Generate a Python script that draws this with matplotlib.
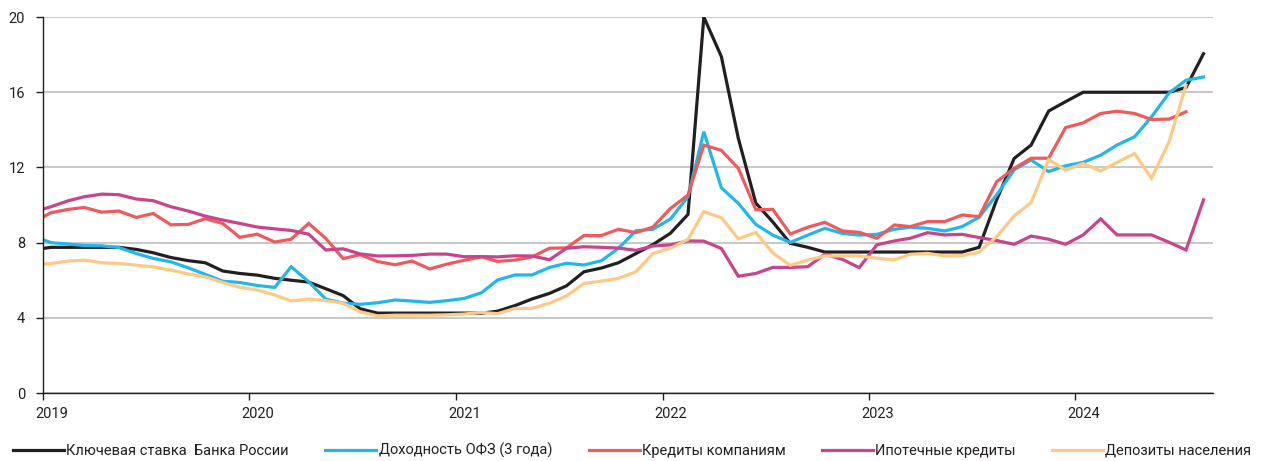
"""Key rate vs OFZ yields, loans and deposits, 2019-2024."""
import matplotlib
matplotlib.use('Agg')
import matplotlib.pyplot as plt
import matplotlib.dates as mdates
import pandas as pd

plt.rcParams['font.family'] = ['Roboto', 'DejaVu Sans']

# monthly points, Dec 2018 .. Aug 2024 (plotted mid-month)
months = pd.date_range('2018-12-01', periods=69, freq='MS') + pd.Timedelta(days=14)

key_rate = [7.62,
            7.75, 7.75, 7.75, 7.75, 7.75, 7.64, 7.46, 7.21, 7.04, 6.93, 6.49, 6.36,
            6.27, 6.10, 6.00, 5.90, 5.55, 5.18, 4.48, 4.25, 4.25, 4.25, 4.25, 4.25,
            4.25, 4.25, 4.35, 4.65, 5.00, 5.30, 5.70, 6.45, 6.65, 6.93, 7.42, 7.90,
            8.50, 9.50, 20.0, 17.9, 13.55, 10.1, 9.10, 7.96, 7.75, 7.50, 7.50, 7.50,
            7.50, 7.50, 7.50, 7.50, 7.50, 7.50, 7.75, 10.27, 12.48, 13.19, 15.0, 15.5,
            16.0, 16.0, 16.0, 16.0, 16.0, 16.0, 16.25, 18.05]
ofz_3y = [8.35,
          8.00, 7.92, 7.85, 7.83, 7.74, 7.42, 7.16, 6.98, 6.66, 6.31, 5.95, 5.88,
          5.72, 5.62, 6.72, 5.92, 5.00, 4.78, 4.72, 4.80, 4.95, 4.89, 4.82, 4.91,
          5.03, 5.34, 6.01, 6.28, 6.28, 6.68, 6.90, 6.81, 7.04, 7.70, 8.63, 8.71,
          9.26, 10.44, 13.90, 10.92, 10.09, 8.97, 8.40, 8.01, 8.40, 8.76, 8.49, 8.40,
          8.44, 8.71, 8.82, 8.76, 8.62, 8.85, 9.35, 10.54, 11.87, 12.40, 11.78, 12.09,
          12.27, 12.65, 13.19, 13.63, 14.69, 15.96, 16.64, 16.81]
corp_loans = [9.09,
              9.59, 9.77, 9.87, 9.62, 9.68, 9.34, 9.55, 8.95, 8.97, 9.27, 9.02, 8.28,
              8.45, 8.03, 8.18, 9.02, 8.23, 7.15, 7.36, 6.99, 6.82, 7.02, 6.60, 6.85,
              7.06, 7.24, 7.00, 7.07, 7.24, 7.70, 7.72, 8.38, 8.38, 8.71, 8.53, 8.83,
              9.82, 10.53, 13.19, 12.91, 11.95, 9.75, 9.77, 8.46, 8.82, 9.08, 8.62, 8.55,
              8.23, 8.94, 8.85, 9.12, 9.12, 9.47, 9.38, 11.24, 11.95, 12.49, 12.49,
              14.12, 14.37, 14.87, 14.99, 14.87, 14.55, 14.57, 14.96]
mortgage = [9.63,
            9.91, 10.23, 10.44, 10.58, 10.55, 10.32, 10.23, 9.91, 9.68, 9.41, 9.20, 9.02,
            8.83, 8.73, 8.65, 8.45, 7.61, 7.67, 7.40, 7.29, 7.30, 7.32, 7.39, 7.39,
            7.25, 7.26, 7.24, 7.30, 7.29, 7.09, 7.70, 7.78, 7.75, 7.71, 7.59, 7.82,
            7.88, 8.09, 8.08, 7.69, 6.21, 6.36, 6.68, 6.68, 6.72, 7.38, 7.11, 6.67,
            7.88, 8.09, 8.23, 8.53, 8.41, 8.44, 8.27, 8.11, 7.91, 8.35, 8.18, 7.91,
            8.41, 9.26, 8.41, 8.41, 8.41, 8.02, 7.61, 10.27]
deposits = [6.83,
            6.89, 7.02, 7.07, 6.93, 6.89, 6.80, 6.71, 6.54, 6.33, 6.18, 5.88, 5.62,
            5.48, 5.21, 4.90, 5.00, 4.92, 4.77, 4.32, 4.10, 4.14, 4.14, 4.14, 4.16,
            4.20, 4.29, 4.22, 4.50, 4.50, 4.78, 5.16, 5.83, 5.95, 6.10, 6.45, 7.43,
            7.70, 8.17, 9.65, 9.32, 8.20, 8.54, 7.45, 6.79, 7.07, 7.29, 7.29, 7.29,
            7.17, 7.08, 7.38, 7.43, 7.29, 7.31, 7.49, 8.32, 9.42, 10.13, 12.42,
            11.86, 12.21, 11.81, 12.27, 12.74, 11.42, 13.36, 16.37]

series = [
    (key_rate, 'Ключевая ставка  Банка России', '#231f20'),
    (ofz_3y, 'Доходность ОФЗ (3 года)', '#22b7ea'),
    (corp_loans, 'Кредиты компаниям', '#ef5a5c'),
    (mortgage, 'Ипотечные кредиты', '#c8448c'),
    (deposits, 'Депозиты населения', '#fec985'),
]

fig = plt.figure(figsize=(12.65, 4.61), dpi=100)
ax = fig.add_axes([0.034, 0.1475, 0.925, 0.8155])

for vals, label, color in series:
    ax.plot(months[:len(vals)], vals, color=color, lw=2.3, label=label,
            solid_joinstyle='miter', zorder=3)

ax.set_ylim(0, 20)
ax.set_yticks([0, 4, 8, 12, 16, 20])
ax.set_xlim(pd.Timestamp('2019-01-01'), pd.Timestamp('2024-09-01'))

# year ticks on Jan 1, labels centred on mid-January
ax.xaxis.set_major_locator(mdates.YearLocator())
ax.xaxis.set_major_formatter(plt.NullFormatter())
ax.xaxis.set_minor_locator(mdates.YearLocator(month=1, day=16))
ax.xaxis.set_minor_formatter(mdates.DateFormatter('%Y'))
ax.tick_params(axis='x', which='major', length=5, width=1, color='#231f20')
ax.tick_params(axis='x', which='minor', length=0, pad=10, labelsize=10.5, labelcolor='#231f20')
ax.tick_params(axis='y', length=5, width=1, color='#231f20', pad=8, labelsize=10.5,
               labelcolor='#231f20')

ax.grid(axis='y', color='#c8c8c8', lw=1.4, zorder=0)
ax.set_axisbelow(True)
for s in ['top', 'right']:
    ax.spines[s].set_visible(False)
for s in ['left', 'bottom']:
    ax.spines[s].set_color('#231f20')
    ax.spines[s].set_linewidth(1.0)
    ax.spines[s].set_zorder(4)

fig.legend(loc='lower left', bbox_to_anchor=(0.0, -0.022), ncol=5, frameon=False,
           fontsize=10.5, handlelength=3.5, handletextpad=0.15, columnspacing=2.5,
           labelcolor='#231f20')

plt.savefig('out.png', dpi=100, facecolor='white')
